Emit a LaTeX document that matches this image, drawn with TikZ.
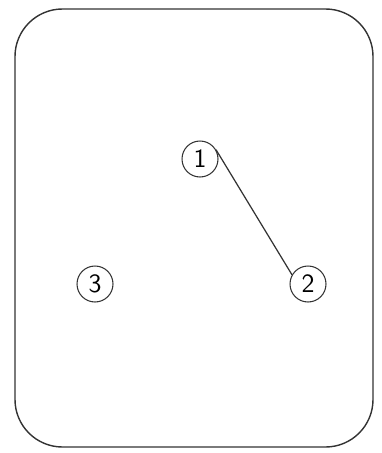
\documentclass[tikz,border=0pt]{standalone}
\usepackage{tikz}
\usetikzlibrary{calc}

\begin{document}
\begin{tikzpicture}[x=0.02cm,y=-0.02cm,
    pin/.style={draw=black!80,circle,line width=0.6pt,minimum size=0.72cm,inner sep=0pt,font=\sffamily\fontsize{15}{15}\selectfont}]
    \useasboundingbox (0,0) rectangle (382,453);
    \draw[black!80,line width=0.8pt,rounded corners=0.95cm] (15,9) rectangle (373,447);
    \node[pin] (p1) at (200,159) {1};
    \node[pin] (p2) at (308,284) {2};
    \node[pin] (p3) at (95,284) {3};
    \draw[black!80,line width=0.7pt] (p1.30) -- (p2.150);
\end{tikzpicture}
\end{document}
